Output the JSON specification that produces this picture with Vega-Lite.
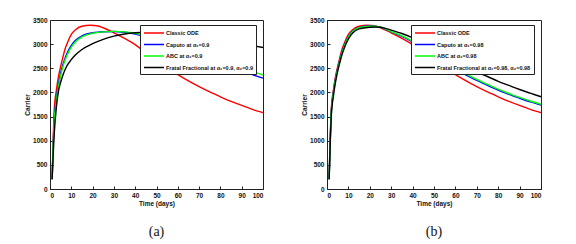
{
  "$schema": "https://vega.github.io/schema/vega-lite/v6.json",
  "background": "white",
  "padding": {"left": 24, "top": 16, "right": 5, "bottom": 0},
  "spacing": 34,
  "config": {
    "view": {"stroke": "#222", "strokeWidth": 1},
    "axis": {
      "domainColor": "#222", "tickColor": "#222", "labelColor": "#111", "titleColor": "#111",
      "labelFont": "Liberation Sans", "titleFont": "Liberation Sans",
      "labelFontSize": 6.5, "titleFontSize": 6.5, "labelFontWeight": "bold", "titleFontWeight": "bold",
      "tickSize": -3, "labelPadding": 6, "grid": false, "domainWidth": 1, "format": "d"
    },
    "axisX": {"titlePadding": 2},
    "axisY": {"titlePadding": 2},
    "legend": {
      "orient": "none", "legendX": 90, "legendY": 5, "title": null,
      "strokeColor": "#222", "fillColor": "white", "padding": 3,
      "symbolType": "M-1,0H4", "symbolSize": 64, "symbolStrokeWidth": 1.5,
      "labelFont": "Liberation Sans", "labelFontSize": 5.5, "labelFontWeight": "bold", "labelColor": "#111",
      "rowPadding": 2.5, "labelOffset": 13, "labelLimit": 300
    },
    "title": {"font": "Liberation Serif", "fontSize": 14, "fontWeight": "normal", "color": "#111", "orient": "bottom", "frame": "group", "offset": 18}
  },
  "datasets": {
    "a": [
      {"s":"Classic ODE","t":1,"v":200},{"s":"Classic ODE","t":2,"v":1650},{"s":"Classic ODE","t":3,"v":2050},{"s":"Classic ODE","t":4,"v":2330},{"s":"Classic ODE","t":5,"v":2540},{"s":"Classic ODE","t":6,"v":2720},{"s":"Classic ODE","t":7,"v":2890},{"s":"Classic ODE","t":8,"v":3010},{"s":"Classic ODE","t":10,"v":3200},{"s":"Classic ODE","t":12,"v":3300},{"s":"Classic ODE","t":15,"v":3370},{"s":"Classic ODE","t":19,"v":3390},{"s":"Classic ODE","t":22,"v":3380},{"s":"Classic ODE","t":25,"v":3340},{"s":"Classic ODE","t":30,"v":3235},{"s":"Classic ODE","t":35,"v":3120},{"s":"Classic ODE","t":40,"v":2990},{"s":"Classic ODE","t":45,"v":2820},{"s":"Classic ODE","t":50,"v":2660},{"s":"Classic ODE","t":55,"v":2510},{"s":"Classic ODE","t":60,"v":2370},{"s":"Classic ODE","t":65,"v":2240},{"s":"Classic ODE","t":70,"v":2120},{"s":"Classic ODE","t":75,"v":2010},{"s":"Classic ODE","t":80,"v":1910},{"s":"Classic ODE","t":85,"v":1815},{"s":"Classic ODE","t":90,"v":1730},{"s":"Classic ODE","t":95,"v":1650},{"s":"Classic ODE","t":100,"v":1580},
      {"s":"Caputo at α₁=0.9","t":1,"v":200},{"s":"Caputo at α₁=0.9","t":2,"v":1450},{"s":"Caputo at α₁=0.9","t":3,"v":1880},{"s":"Caputo at α₁=0.9","t":4,"v":2180},{"s":"Caputo at α₁=0.9","t":5,"v":2400},{"s":"Caputo at α₁=0.9","t":6,"v":2570},{"s":"Caputo at α₁=0.9","t":7,"v":2700},{"s":"Caputo at α₁=0.9","t":8,"v":2810},{"s":"Caputo at α₁=0.9","t":10,"v":2975},{"s":"Caputo at α₁=0.9","t":12,"v":3080},{"s":"Caputo at α₁=0.9","t":15,"v":3170},{"s":"Caputo at α₁=0.9","t":20,"v":3235},{"s":"Caputo at α₁=0.9","t":25,"v":3258},{"s":"Caputo at α₁=0.9","t":30,"v":3262},{"s":"Caputo at α₁=0.9","t":35,"v":3245},{"s":"Caputo at α₁=0.9","t":40,"v":3210},{"s":"Caputo at α₁=0.9","t":45,"v":3155},{"s":"Caputo at α₁=0.9","t":50,"v":3090},{"s":"Caputo at α₁=0.9","t":55,"v":3020},{"s":"Caputo at α₁=0.9","t":60,"v":2945},{"s":"Caputo at α₁=0.9","t":65,"v":2865},{"s":"Caputo at α₁=0.9","t":70,"v":2785},{"s":"Caputo at α₁=0.9","t":75,"v":2705},{"s":"Caputo at α₁=0.9","t":80,"v":2620},{"s":"Caputo at α₁=0.9","t":85,"v":2535},{"s":"Caputo at α₁=0.9","t":90,"v":2450},{"s":"Caputo at α₁=0.9","t":95,"v":2370},{"s":"Caputo at α₁=0.9","t":100,"v":2295},
      {"s":"ABC at α₁=0.9","t":1,"v":200},{"s":"ABC at α₁=0.9","t":2,"v":1400},{"s":"ABC at α₁=0.9","t":3,"v":1830},{"s":"ABC at α₁=0.9","t":4,"v":2130},{"s":"ABC at α₁=0.9","t":5,"v":2350},{"s":"ABC at α₁=0.9","t":6,"v":2520},{"s":"ABC at α₁=0.9","t":7,"v":2660},{"s":"ABC at α₁=0.9","t":8,"v":2770},{"s":"ABC at α₁=0.9","t":10,"v":2940},{"s":"ABC at α₁=0.9","t":12,"v":3050},{"s":"ABC at α₁=0.9","t":15,"v":3150},{"s":"ABC at α₁=0.9","t":20,"v":3225},{"s":"ABC at α₁=0.9","t":25,"v":3255},{"s":"ABC at α₁=0.9","t":30,"v":3265},{"s":"ABC at α₁=0.9","t":35,"v":3255},{"s":"ABC at α₁=0.9","t":40,"v":3225},{"s":"ABC at α₁=0.9","t":45,"v":3175},{"s":"ABC at α₁=0.9","t":50,"v":3115},{"s":"ABC at α₁=0.9","t":55,"v":3050},{"s":"ABC at α₁=0.9","t":60,"v":2980},{"s":"ABC at α₁=0.9","t":65,"v":2905},{"s":"ABC at α₁=0.9","t":70,"v":2830},{"s":"ABC at α₁=0.9","t":75,"v":2755},{"s":"ABC at α₁=0.9","t":80,"v":2675},{"s":"ABC at α₁=0.9","t":85,"v":2595},{"s":"ABC at α₁=0.9","t":90,"v":2515},{"s":"ABC at α₁=0.9","t":95,"v":2435},{"s":"ABC at α₁=0.9","t":100,"v":2360},
      {"s":"Fratal Fractional at α₁=0.9, α₂=0.9","t":1,"v":200},{"s":"Fratal Fractional at α₁=0.9, α₂=0.9","t":2,"v":1150},{"s":"Fratal Fractional at α₁=0.9, α₂=0.9","t":3,"v":1700},{"s":"Fratal Fractional at α₁=0.9, α₂=0.9","t":4,"v":2030},{"s":"Fratal Fractional at α₁=0.9, α₂=0.9","t":5,"v":2210},{"s":"Fratal Fractional at α₁=0.9, α₂=0.9","t":6,"v":2350},{"s":"Fratal Fractional at α₁=0.9, α₂=0.9","t":7,"v":2465},{"s":"Fratal Fractional at α₁=0.9, α₂=0.9","t":8,"v":2555},{"s":"Fratal Fractional at α₁=0.9, α₂=0.9","t":10,"v":2680},{"s":"Fratal Fractional at α₁=0.9, α₂=0.9","t":12,"v":2780},{"s":"Fratal Fractional at α₁=0.9, α₂=0.9","t":15,"v":2890},{"s":"Fratal Fractional at α₁=0.9, α₂=0.9","t":20,"v":3010},{"s":"Fratal Fractional at α₁=0.9, α₂=0.9","t":25,"v":3100},{"s":"Fratal Fractional at α₁=0.9, α₂=0.9","t":30,"v":3165},{"s":"Fratal Fractional at α₁=0.9, α₂=0.9","t":35,"v":3210},{"s":"Fratal Fractional at α₁=0.9, α₂=0.9","t":40,"v":3235},{"s":"Fratal Fractional at α₁=0.9, α₂=0.9","t":45,"v":3245},{"s":"Fratal Fractional at α₁=0.9, α₂=0.9","t":50,"v":3242},{"s":"Fratal Fractional at α₁=0.9, α₂=0.9","t":55,"v":3232},{"s":"Fratal Fractional at α₁=0.9, α₂=0.9","t":60,"v":3215},{"s":"Fratal Fractional at α₁=0.9, α₂=0.9","t":65,"v":3190},{"s":"Fratal Fractional at α₁=0.9, α₂=0.9","t":70,"v":3160},{"s":"Fratal Fractional at α₁=0.9, α₂=0.9","t":75,"v":3125},{"s":"Fratal Fractional at α₁=0.9, α₂=0.9","t":80,"v":3090},{"s":"Fratal Fractional at α₁=0.9, α₂=0.9","t":85,"v":3050},{"s":"Fratal Fractional at α₁=0.9, α₂=0.9","t":90,"v":3010},{"s":"Fratal Fractional at α₁=0.9, α₂=0.9","t":95,"v":2970},{"s":"Fratal Fractional at α₁=0.9, α₂=0.9","t":100,"v":2930}
    ],
    "b": [
      {"s":"Classic ODE","t":1,"v":200},{"s":"Classic ODE","t":2,"v":1650},{"s":"Classic ODE","t":3,"v":2050},{"s":"Classic ODE","t":4,"v":2330},{"s":"Classic ODE","t":5,"v":2540},{"s":"Classic ODE","t":6,"v":2720},{"s":"Classic ODE","t":7,"v":2890},{"s":"Classic ODE","t":8,"v":3010},{"s":"Classic ODE","t":10,"v":3200},{"s":"Classic ODE","t":12,"v":3300},{"s":"Classic ODE","t":15,"v":3370},{"s":"Classic ODE","t":19,"v":3390},{"s":"Classic ODE","t":22,"v":3380},{"s":"Classic ODE","t":25,"v":3340},{"s":"Classic ODE","t":30,"v":3235},{"s":"Classic ODE","t":35,"v":3120},{"s":"Classic ODE","t":40,"v":2990},{"s":"Classic ODE","t":45,"v":2820},{"s":"Classic ODE","t":50,"v":2660},{"s":"Classic ODE","t":55,"v":2510},{"s":"Classic ODE","t":60,"v":2370},{"s":"Classic ODE","t":65,"v":2240},{"s":"Classic ODE","t":70,"v":2120},{"s":"Classic ODE","t":75,"v":2010},{"s":"Classic ODE","t":80,"v":1910},{"s":"Classic ODE","t":85,"v":1815},{"s":"Classic ODE","t":90,"v":1730},{"s":"Classic ODE","t":95,"v":1650},{"s":"Classic ODE","t":100,"v":1580},
      {"s":"Caputo at α₁=0.98","t":1,"v":200},{"s":"Caputo at α₁=0.98","t":2,"v":1600},{"s":"Caputo at α₁=0.98","t":3,"v":2010},{"s":"Caputo at α₁=0.98","t":4,"v":2290},{"s":"Caputo at α₁=0.98","t":5,"v":2500},{"s":"Caputo at α₁=0.98","t":6,"v":2680},{"s":"Caputo at α₁=0.98","t":7,"v":2840},{"s":"Caputo at α₁=0.98","t":8,"v":2960},{"s":"Caputo at α₁=0.98","t":10,"v":3160},{"s":"Caputo at α₁=0.98","t":12,"v":3270},{"s":"Caputo at α₁=0.98","t":15,"v":3345},{"s":"Caputo at α₁=0.98","t":20,"v":3375},{"s":"Caputo at α₁=0.98","t":22,"v":3372},{"s":"Caputo at α₁=0.98","t":25,"v":3350},{"s":"Caputo at α₁=0.98","t":30,"v":3255},{"s":"Caputo at α₁=0.98","t":35,"v":3160},{"s":"Caputo at α₁=0.98","t":40,"v":3045},{"s":"Caputo at α₁=0.98","t":45,"v":2895},{"s":"Caputo at α₁=0.98","t":50,"v":2750},{"s":"Caputo at α₁=0.98","t":55,"v":2610},{"s":"Caputo at α₁=0.98","t":60,"v":2480},{"s":"Caputo at α₁=0.98","t":65,"v":2360},{"s":"Caputo at α₁=0.98","t":70,"v":2250},{"s":"Caputo at α₁=0.98","t":75,"v":2145},{"s":"Caputo at α₁=0.98","t":80,"v":2050},{"s":"Caputo at α₁=0.98","t":85,"v":1960},{"s":"Caputo at α₁=0.98","t":90,"v":1880},{"s":"Caputo at α₁=0.98","t":95,"v":1805},{"s":"Caputo at α₁=0.98","t":100,"v":1740},
      {"s":"ABC at α₁=0.98","t":1,"v":200},{"s":"ABC at α₁=0.98","t":2,"v":1580},{"s":"ABC at α₁=0.98","t":3,"v":1990},{"s":"ABC at α₁=0.98","t":4,"v":2270},{"s":"ABC at α₁=0.98","t":5,"v":2480},{"s":"ABC at α₁=0.98","t":6,"v":2660},{"s":"ABC at α₁=0.98","t":7,"v":2820},{"s":"ABC at α₁=0.98","t":8,"v":2945},{"s":"ABC at α₁=0.98","t":10,"v":3150},{"s":"ABC at α₁=0.98","t":12,"v":3262},{"s":"ABC at α₁=0.98","t":15,"v":3340},{"s":"ABC at α₁=0.98","t":20,"v":3372},{"s":"ABC at α₁=0.98","t":22,"v":3372},{"s":"ABC at α₁=0.98","t":25,"v":3352},{"s":"ABC at α₁=0.98","t":30,"v":3260},{"s":"ABC at α₁=0.98","t":35,"v":3170},{"s":"ABC at α₁=0.98","t":40,"v":3060},{"s":"ABC at α₁=0.98","t":45,"v":2915},{"s":"ABC at α₁=0.98","t":50,"v":2770},{"s":"ABC at α₁=0.98","t":55,"v":2630},{"s":"ABC at α₁=0.98","t":60,"v":2500},{"s":"ABC at α₁=0.98","t":65,"v":2380},{"s":"ABC at α₁=0.98","t":70,"v":2270},{"s":"ABC at α₁=0.98","t":75,"v":2165},{"s":"ABC at α₁=0.98","t":80,"v":2068},{"s":"ABC at α₁=0.98","t":85,"v":1978},{"s":"ABC at α₁=0.98","t":90,"v":1897},{"s":"ABC at α₁=0.98","t":95,"v":1822},{"s":"ABC at α₁=0.98","t":100,"v":1755},
      {"s":"Fratal Fractional at α₁=0.98, α₂=0.98","t":1,"v":200},{"s":"Fratal Fractional at α₁=0.98, α₂=0.98","t":2,"v":1500},{"s":"Fratal Fractional at α₁=0.98, α₂=0.98","t":3,"v":1930},{"s":"Fratal Fractional at α₁=0.98, α₂=0.98","t":4,"v":2220},{"s":"Fratal Fractional at α₁=0.98, α₂=0.98","t":5,"v":2440},{"s":"Fratal Fractional at α₁=0.98, α₂=0.98","t":6,"v":2620},{"s":"Fratal Fractional at α₁=0.98, α₂=0.98","t":7,"v":2780},{"s":"Fratal Fractional at α₁=0.98, α₂=0.98","t":8,"v":2910},{"s":"Fratal Fractional at α₁=0.98, α₂=0.98","t":10,"v":3110},{"s":"Fratal Fractional at α₁=0.98, α₂=0.98","t":12,"v":3230},{"s":"Fratal Fractional at α₁=0.98, α₂=0.98","t":15,"v":3315},{"s":"Fratal Fractional at α₁=0.98, α₂=0.98","t":20,"v":3350},{"s":"Fratal Fractional at α₁=0.98, α₂=0.98","t":23,"v":3355},{"s":"Fratal Fractional at α₁=0.98, α₂=0.98","t":25,"v":3350},{"s":"Fratal Fractional at α₁=0.98, α₂=0.98","t":30,"v":3290},{"s":"Fratal Fractional at α₁=0.98, α₂=0.98","t":35,"v":3220},{"s":"Fratal Fractional at α₁=0.98, α₂=0.98","t":40,"v":3130},{"s":"Fratal Fractional at α₁=0.98, α₂=0.98","t":45,"v":3005},{"s":"Fratal Fractional at α₁=0.98, α₂=0.98","t":50,"v":2870},{"s":"Fratal Fractional at α₁=0.98, α₂=0.98","t":55,"v":2740},{"s":"Fratal Fractional at α₁=0.98, α₂=0.98","t":60,"v":2630},{"s":"Fratal Fractional at α₁=0.98, α₂=0.98","t":65,"v":2520},{"s":"Fratal Fractional at α₁=0.98, α₂=0.98","t":70,"v":2420},{"s":"Fratal Fractional at α₁=0.98, α₂=0.98","t":75,"v":2330},{"s":"Fratal Fractional at α₁=0.98, α₂=0.98","t":80,"v":2230},{"s":"Fratal Fractional at α₁=0.98, α₂=0.98","t":85,"v":2145},{"s":"Fratal Fractional at α₁=0.98, α₂=0.98","t":90,"v":2060},{"s":"Fratal Fractional at α₁=0.98, α₂=0.98","t":95,"v":1985},{"s":"Fratal Fractional at α₁=0.98, α₂=0.98","t":100,"v":1910}
    ]
  },
  "hconcat": [
    {
      "width": 213, "height": 169,
      "data": {"name": "a"},
      "title": {"text": "(a)"},
      "mark": {"type": "line", "strokeWidth": 1.4, "interpolate": "monotone"},
      "encoding": {
        "x": {"field": "t", "type": "quantitative", "scale": {"domain": [0, 100], "nice": false}, "axis": {"title": "Time (days)", "values": [0,10,20,30,40,50,60,70,80,90,100]}},
        "y": {"field": "v", "type": "quantitative", "scale": {"domain": [0, 3500], "nice": false}, "axis": {"title": "Carrier", "values": [0,500,1000,1500,2000,2500,3000,3500]}},
        "color": {"field": "s", "type": "nominal", "sort": null,
          "scale": {"domain": ["Classic ODE", "Caputo at α₁=0.9", "ABC at α₁=0.9", "Fratal Fractional at α₁=0.9, α₂=0.9"], "range": ["#ff0000", "#0000ff", "#00ff00", "#000000"]}}
      }
    },
    {
      "width": 214, "height": 169,
      "data": {"name": "b"},
      "title": {"text": "(b)"},
      "mark": {"type": "line", "strokeWidth": 1.4, "interpolate": "monotone"},
      "encoding": {
        "x": {"field": "t", "type": "quantitative", "scale": {"domain": [0, 100], "nice": false}, "axis": {"title": "Time (days)", "values": [0,10,20,30,40,50,60,70,80,90,100]}},
        "y": {"field": "v", "type": "quantitative", "scale": {"domain": [0, 3500], "nice": false}, "axis": {"title": "Carrier", "values": [0,500,1000,1500,2000,2500,3000,3500]}},
        "color": {"field": "s", "type": "nominal", "sort": null,
          "scale": {"domain": ["Classic ODE", "Caputo at α₁=0.98", "ABC at α₁=0.98", "Fratal Fractional at α₁=0.98, α₂=0.98"], "range": ["#ff0000", "#0000ff", "#00ff00", "#000000"]},
          "legend": {"legendX": 84}}
      }
    }
  ],
  "resolve": {"scale": {"color": "independent"}}
}
